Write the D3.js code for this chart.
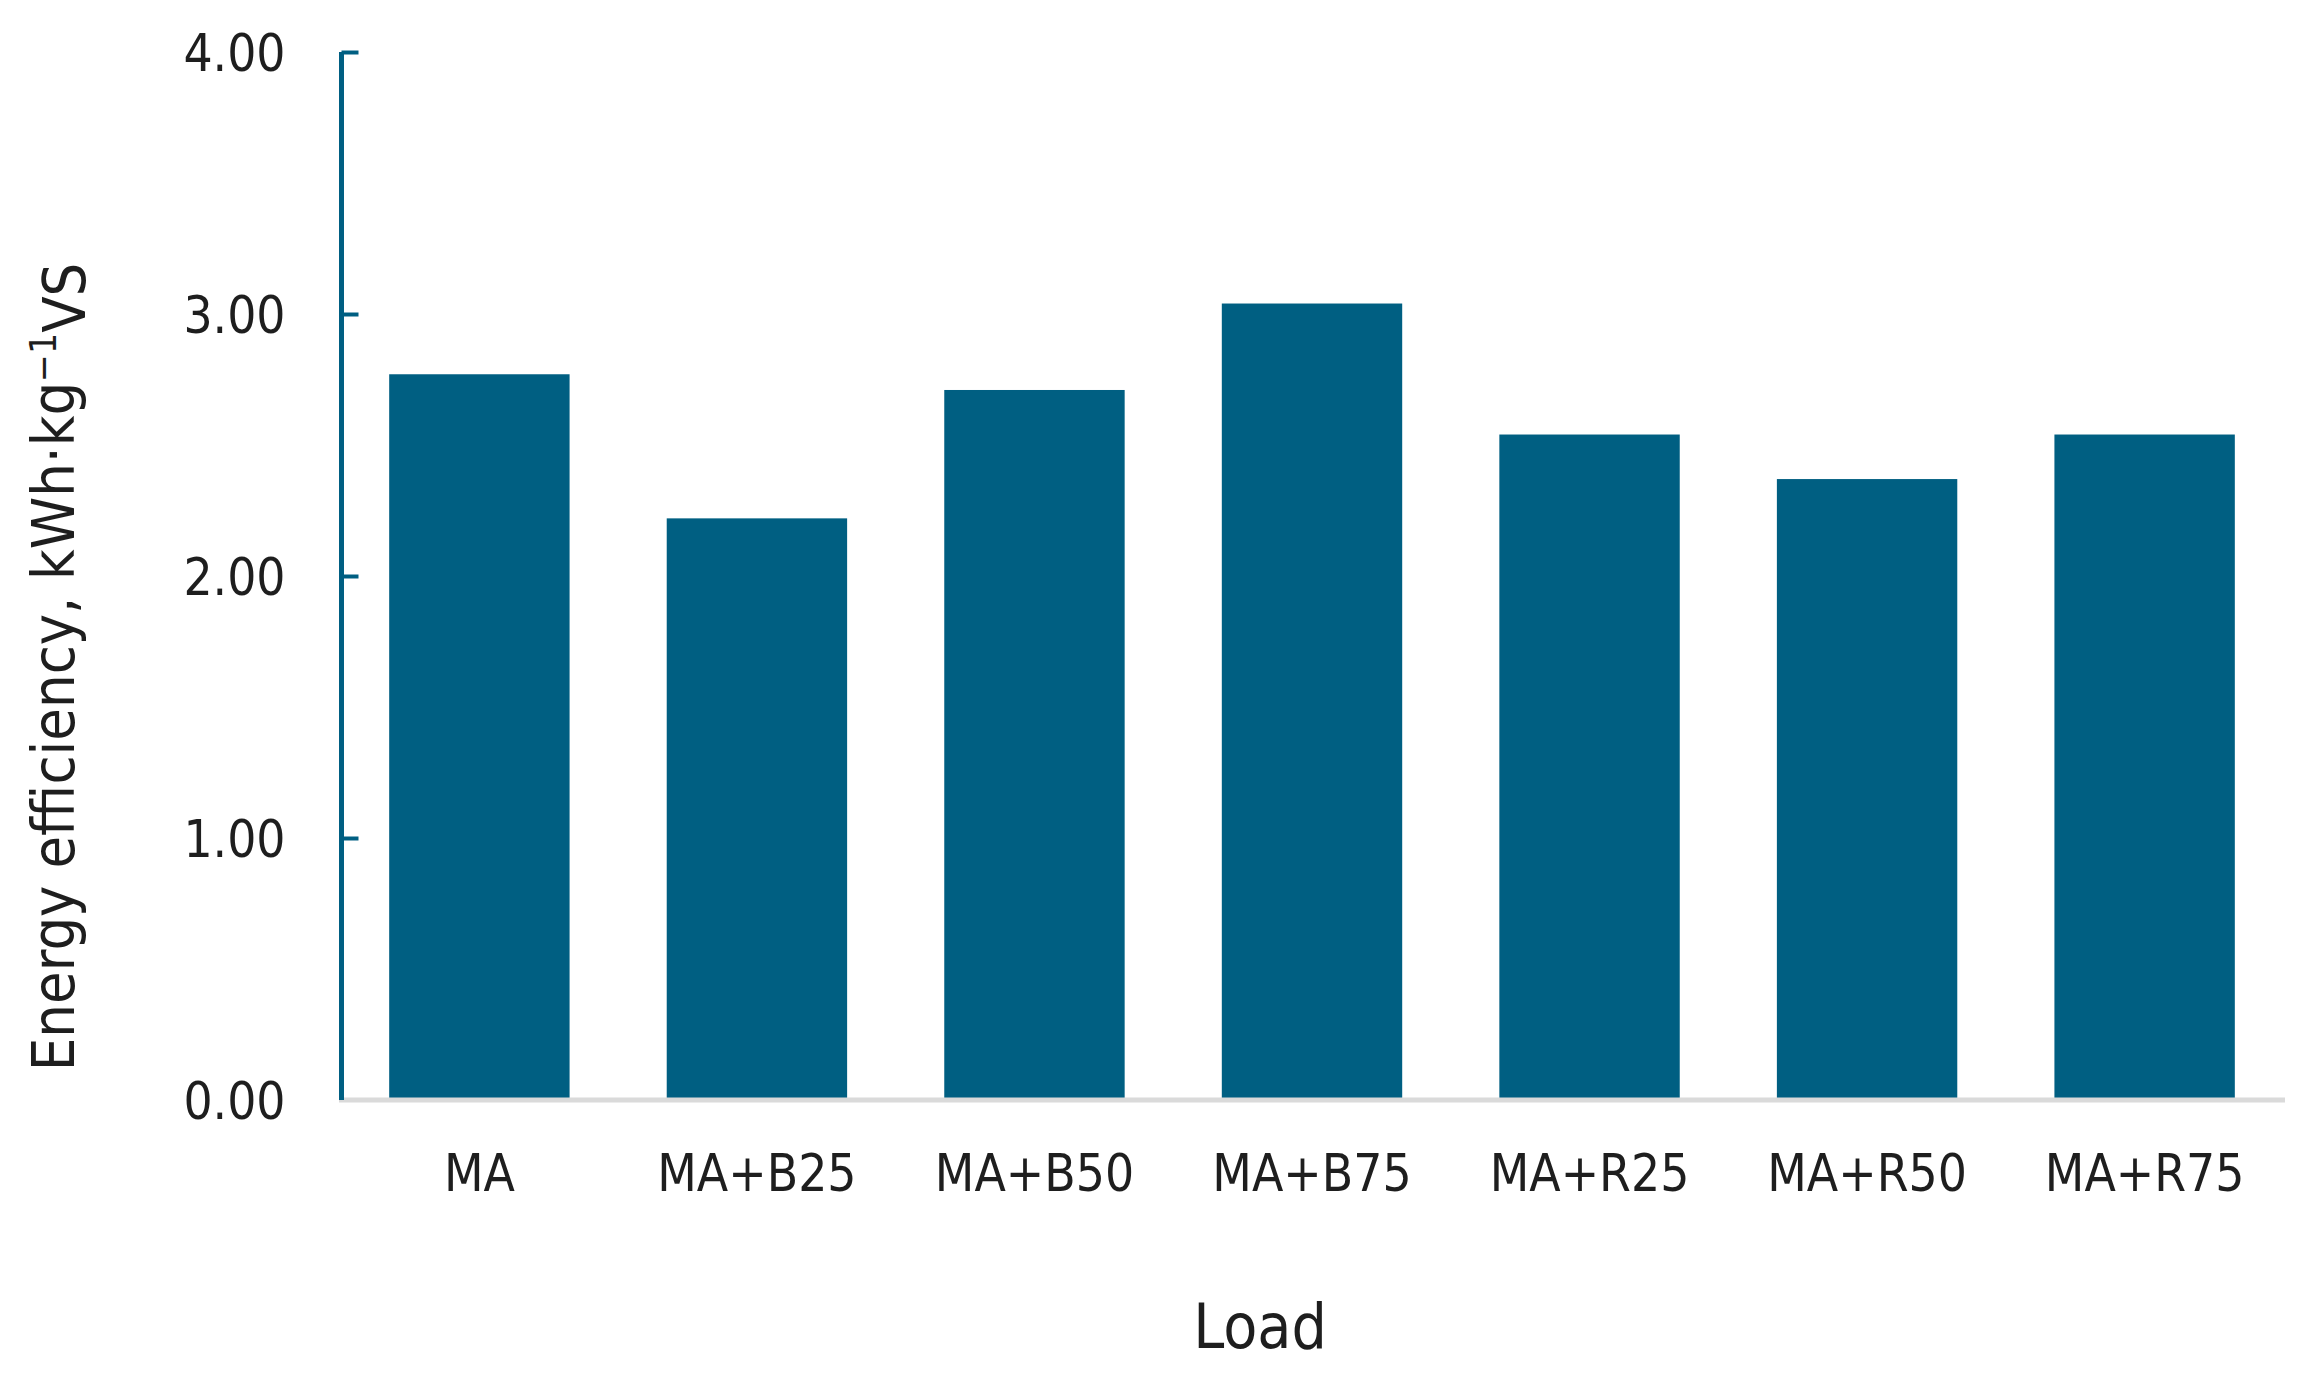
<!DOCTYPE html>
<html>
<head>
    <meta charset="utf-8">
    <title>Energy efficiency by load</title>
    <style type="text/css">
        body { margin: 0; background: #fff; }
        svg text {
            font-family: "DejaVu Sans Condensed", "DejaVu Sans", sans-serif;
            font-stretch: condensed;
            fill: #1e1e1e;
        }
    </style>
</head>
<body>
    <svg class="chart"></svg>

    <script src="https://cdn.jsdelivr.net/npm/d3@7"></script>
    <script type="text/javascript">
        // 数据
        var loads = ["MA", "MA+B25", "MA+B50", "MA+B75", "MA+R25", "MA+R50", "MA+R75"]
        var efficiency = [2.77, 2.22, 2.71, 3.04, 2.54, 2.37, 2.54]
        var yTicks = [0, 1, 2, 3, 4]

        var width = 2313
        var height = 1379
        var barColor = "#005f82"

        var svg = d3.select("svg.chart")
            .attr("width", width)
            .attr("height", height)

        var x = d3.scaleBand()
            .domain(loads)
            .range([342, 2282])
            .paddingInner(0.35)
            .paddingOuter(0.17)

        var y = d3.scaleLinear()
            .domain([0, 4])
            .range([1100, 52])

        // 柱子
        svg.append("g")
            .selectAll("rect")
            .data(loads)
            .join("rect")
                .attr("x", d => x(d))
                .attr("y", (d, i) => y(efficiency[i]))
                .attr("width", x.bandwidth())
                .attr("height", (d, i) => y(0) - y(efficiency[i]))
                .attr("fill", barColor)

        // 底部基线 (浅灰)
        svg.append("line")
            .attr("x1", 339)
            .attr("x2", 2285)
            .attr("y1", y(0))
            .attr("y2", y(0))
            .attr("stroke", "#dadada")
            .attr("stroke-width", 5)

        // y轴
        var yAxis = svg.append("g")
            .attr("transform", "translate(341.5,0)")
            .call(d3.axisRight(y).tickValues(yTicks).tickSize(17).tickFormat(d3.format(".2f")))

        yAxis.select(".domain")
            .attr("d", `M0,${y(4)}V${y(0)}`)
            .attr("stroke", barColor)
            .attr("stroke-width", 5)

        yAxis.selectAll(".tick line")
            .attr("stroke", barColor)
            .attr("stroke-width", 4)

        yAxis.selectAll(".tick").filter(d => d === 0).select("line").remove()

        yAxis.selectAll(".tick text")
            .attr("x", -56)
            .attr("dy", "0.36em")
            .attr("text-anchor", "end")
            .style("font-size", "51px")

        // x轴标签
        svg.append("g")
            .selectAll("text")
            .data(loads)
            .join("text")
                .attr("x", d => x(d) + x.bandwidth() / 2)
                .attr("y", 1191)
                .attr("text-anchor", "middle")
                .style("font-size", "51px")
                .text(d => d)

        // 轴标题
        svg.append("text")
            .attr("x", 1260)
            .attr("y", 1348)
            .attr("text-anchor", "middle")
            .style("font-size", "62px")
            .text("Load")

        var yTitle = svg.append("text")
            .attr("transform", "translate(74,667) rotate(-90)")
            .attr("text-anchor", "middle")
            .style("font-size", "59px")

        yTitle.append("tspan").text("Energy efficiency, kWh·kg")
        yTitle.append("tspan")
            .attr("dy", "-0.5em")
            .style("font-size", "37px")
            .text("−1")
        yTitle.append("tspan")
            .attr("dy", "0.5em")
            .text("VS")
    </script>
</body>
</html>
